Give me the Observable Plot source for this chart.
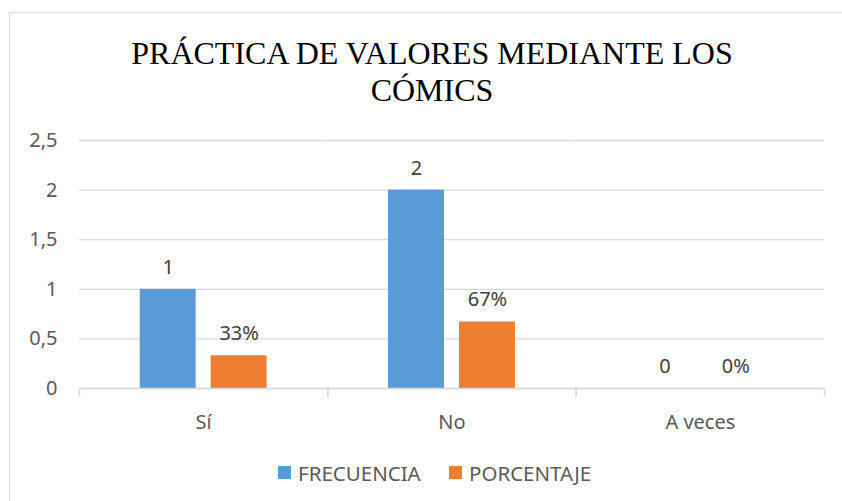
<!DOCTYPE html>
<html>
<head>
<meta charset="utf-8">
<script src="https://cdn.jsdelivr.net/npm/d3@7"></script>
<script src="https://cdn.jsdelivr.net/npm/@observablehq/plot@0.6"></script>
<style>
  html, body { margin: 0; padding: 0; background: #fff; }
  #wrap { position: relative; width: 842px; height: 501px; overflow: hidden; background: #fff; }
  #border { position: absolute; left: 9px; top: 12px; width: 860px; height: 520px; border: 1.5px solid #d9d9d9; box-sizing: border-box; }
  #chart { position: absolute; left: 0; top: 0; }
  #title { position: absolute; left: 0; width: 842px; top: 35px; text-align: center; font-family: "Liberation Serif", "Times New Roman", serif; font-size: 32px; line-height: 37px; color: #000; padding-left: 22px; box-sizing: border-box; }
  .sw { position: absolute; width: 13px; height: 13px; top: 466px; }
  .lt { position: absolute; top: 459px; font-family: "Noto Sans", sans-serif; font-size: 20.5px; color: #595959; white-space: nowrap; }
</style>
</head>
<body>
<div id="wrap">
  <div id="border"></div>
  <div id="chart"></div>
  <div id="title"></div>
  <div id="legend"></div>
</div>
<script>
const titleLines = ["PRÁCTICA DE VALORES MEDIANTE LOS", "CÓMICS"];
const categories = ["Sí", "No", "A veces"];
const series = ["FRECUENCIA", "PORCENTAJE"];
const colors = ["#5B9BD5", "#ED7D31"];
const frecuencia = [1, 2, 0];
const porcentaje = [0.33, 0.67, 0];
const porcentajeLabels = ["33%", "67%", "0%"];
const yTicks = [0, 0.5, 1, 1.5, 2, 2.5];

const data = categories.flatMap((c, i) => [
  {cat: c, serie: series[0], value: frecuencia[i], label: String(frecuencia[i])},
  {cat: c, serie: series[1], value: porcentaje[i], label: porcentajeLabels[i]}
]);

const chart = Plot.plot({
  width: 842,
  height: 501,
  marginLeft: 79,
  marginRight: 18,
  marginTop: 140,
  marginBottom: 113,
  style: {fontFamily: "'Noto Sans', sans-serif", fontSize: "20px", color: "#595959", background: "transparent"},
  fx: {domain: categories, paddingInner: 0, paddingOuter: 0, round: false, label: null},
  x: {domain: series, paddingInner: 0.211, paddingOuter: 0.856, round: false, axis: null},
  y: {domain: [0, 2.5], ticks: yTicks},
  color: {domain: series, range: colors},
  marks: [
    Plot.gridY(yTicks, {stroke: "#d9d9d9", strokeOpacity: 1, strokeWidth: 1.3}),
    Plot.barY(data, {fx: "cat", x: "serie", y: "value", fill: "serie"}),
    Plot.ruleY([0], {stroke: "#d9d9d9", strokeWidth: 1.5}),
    Plot.frame({anchor: "left", stroke: "#d9d9d9", strokeOpacity: 1, strokeWidth: 1.5, insetTop: 248, insetBottom: -8}),
    Plot.frame({anchor: "right", stroke: "#d9d9d9", strokeOpacity: 1, strokeWidth: 1.5, insetTop: 248, insetBottom: -8}),
    Plot.text(data, {fx: "cat", x: "serie", y: "value", text: "label", dy: -22, fill: "#404040", fontSize: 20}),
    Plot.axisY(yTicks, {tickSize: 0, tickPadding: 22, tickFormat: d => String(d).replace(".", ","), fontSize: 20, fill: "#595959", label: null}),
    Plot.axisFx({anchor: "bottom", tickSize: 0, tickPadding: 26, fontSize: 20, fill: "#595959", label: null})
  ]
});
document.getElementById("chart").appendChild(chart);

document.getElementById("title").innerHTML = titleLines.join("<br>");

const legend = document.getElementById("legend");
const legendX = [[278, 298], [449, 469]];
series.forEach((s, i) => {
  const sw = document.createElement("div");
  sw.className = "sw";
  sw.style.left = legendX[i][0] + "px";
  sw.style.background = colors[i];
  legend.appendChild(sw);
  const t = document.createElement("div");
  t.className = "lt";
  t.style.left = legendX[i][1] + "px";
  t.textContent = s;
  legend.appendChild(t);
});
</script>
</body>
</html>
